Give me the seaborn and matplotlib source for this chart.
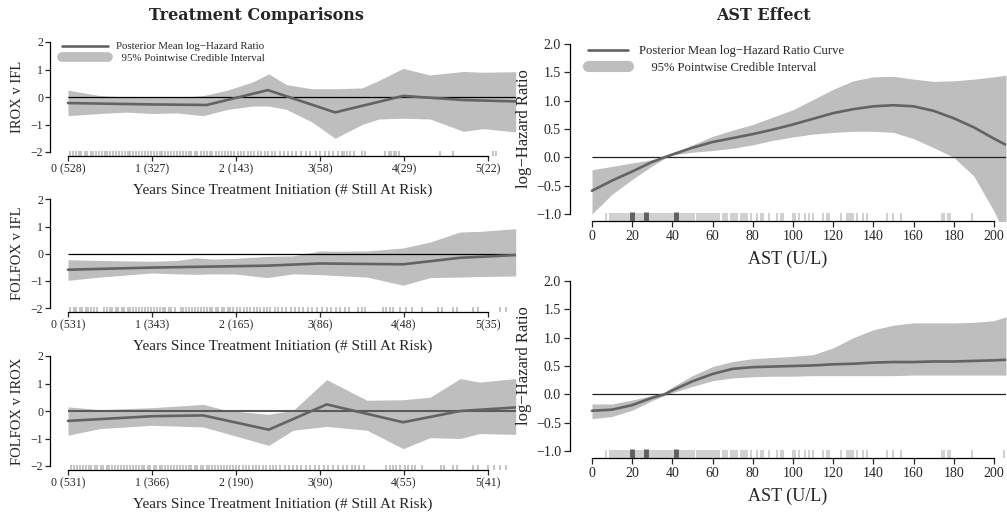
import numpy as np
import pandas as pd
import matplotlib
matplotlib.use("Agg")
import matplotlib.pyplot as plt
import seaborn as sns
from matplotlib.lines import Line2D

# ---------------- data ----------------
# Treatment comparisons (years since treatment initiation)
irox_ifl_mean_x = [0, 1.0, 1.65, 2.38, 3.18, 3.99, 4.71, 5.33]
irox_ifl_mean = [-0.22, -0.27, -0.29, 0.25, -0.56, 0.04, -0.11, -0.16]
irox_ifl_band_x = [0, 0.38, 0.7, 1.0, 1.3, 1.61, 1.9, 2.2, 2.39, 2.6, 2.9, 3.18, 3.5, 3.7, 3.99, 4.31, 4.71, 4.94, 5.33]
irox_ifl_upper = [0.25, 0.05, 0.0, -0.02, -0.02, 0.05, 0.25, 0.55, 0.84, 0.45, 0.3, 0.3, 0.33, 0.6, 1.04, 0.8, 0.93, 0.9, 0.92]
irox_ifl_lower = [-0.68, -0.6, -0.55, -0.6, -0.58, -0.68, -0.45, -0.33, -0.33, -0.45, -0.9, -1.5, -1.0, -0.8, -0.77, -0.8, -1.25, -1.15, -1.27]

folfox_ifl_mean_x = [0, 1.0, 2.37, 3.0, 3.99, 4.67, 5.33]
folfox_ifl_mean = [-0.59, -0.51, -0.44, -0.36, -0.39, -0.15, -0.05]
folfox_ifl_band_x = [0, 0.38, 1.0, 1.29, 1.53, 1.73, 2.0, 2.37, 2.68, 3.0, 3.16, 3.56, 3.99, 4.31, 4.67, 4.9, 5.33]
folfox_ifl_upper = [-0.22, -0.25, -0.28, -0.25, -0.15, -0.2, -0.17, -0.1, -0.08, 0.1, 0.09, 0.1, 0.21, 0.43, 0.8, 0.82, 0.92]
folfox_ifl_lower = [-0.98, -0.86, -0.71, -0.74, -0.76, -0.74, -0.75, -0.88, -0.74, -0.77, -0.8, -0.86, -1.16, -0.88, -0.86, -0.84, -0.82]

folfox_irox_mean_x = [0, 1.0, 1.61, 2.39, 3.08, 3.99, 4.67, 5.33]
folfox_irox_mean = [-0.36, -0.19, -0.16, -0.68, 0.24, -0.41, 0.0, 0.13]
folfox_irox_band_x = [0, 0.38, 1.0, 1.61, 1.89, 2.39, 2.68, 3.08, 3.56, 3.99, 4.31, 4.67, 4.9, 5.33]
folfox_irox_upper = [0.15, 0.05, 0.12, 0.24, 0.02, -0.12, 0.02, 1.14, 0.39, 0.41, 0.5, 1.18, 1.05, 1.18]
folfox_irox_lower = [-0.88, -0.64, -0.52, -0.58, -0.82, -1.25, -0.7, -0.56, -0.7, -1.37, -0.97, -1.0, -0.82, -0.85]

year_ticks = [0, 1, 2, 3, 4, 5]
irox_ifl_ticklabels = ["0 (528)", "1 (327)", "2 (143)", "3(58)", "4(29)", "5(22)"]
folfox_ifl_ticklabels = ["0 (531)", "1 (343)", "2 (165)", "3(86)", "4(48)", "5(35)"]
folfox_irox_ticklabels = ["0 (531)", "1 (366)", "2 (190)", "3(90)", "4(55)", "5(41)"]

irox_ifl_rug = [0.03, 0.06, 0.1, 0.13, 0.16, 0.2, 0.23, 0.27, 0.3, 0.33, 0.37, 0.4, 0.44, 0.47, 0.5,
                0.54, 0.57, 0.61, 0.64, 0.68, 0.71, 0.74, 0.78, 0.81, 0.85, 0.88, 0.92, 0.95, 0.99, 1.02,
                1.06, 1.09, 1.12, 1.16, 1.19, 1.23, 1.26, 1.3, 1.33, 1.37, 1.4, 1.44, 1.47, 1.51, 1.54,
                1.58, 1.62, 1.65, 1.69, 1.72, 1.76, 1.8, 1.83, 1.87, 1.91, 1.94, 1.98, 2.02, 2.06, 2.1,
                2.14, 2.18, 2.22, 2.26, 2.3, 2.34, 2.38, 2.43, 2.47, 2.52, 2.57, 2.62, 2.67, 2.72, 2.77,
                2.83, 2.88, 2.95, 3.0, 3.06, 3.11, 3.16, 3.22, 3.26, 3.29, 3.32, 3.36, 3.4, 3.5, 3.54,
                3.77, 3.82, 3.85, 3.88, 3.91, 3.94, 4.43, 4.58, 5.06, 5.1]
folfox_ifl_rug = [0.03, 0.07, 0.1, 0.14, 0.17, 0.21, 0.24, 0.28, 0.31, 0.35, 0.43, 0.46, 0.5, 0.53,
                  0.57, 0.6, 0.64, 0.67, 0.71, 0.74, 0.78, 0.81, 0.85, 0.88, 0.92, 0.95, 0.99, 1.02,
                  1.06, 1.09, 1.13, 1.16, 1.2, 1.23, 1.27, 1.34, 1.37, 1.41, 1.44, 1.48, 1.51, 1.55,
                  1.58, 1.62, 1.65, 1.69, 1.72, 1.76, 1.79, 1.83, 1.86, 1.9, 1.93, 1.97, 2.01, 2.05,
                  2.09, 2.13, 2.17, 2.21, 2.25, 2.29, 2.33, 2.37, 2.41, 2.46, 2.5, 2.55, 2.6, 2.65,
                  2.7, 2.75, 2.8, 2.86, 2.91, 2.97, 3.02, 3.08, 3.13, 3.19, 3.24, 3.3, 3.35, 3.45,
                  3.5, 3.54, 3.75, 3.79, 3.83, 3.87, 3.95, 4.03, 4.09, 4.21, 4.41, 4.45, 4.58, 4.63,
                  4.82, 4.88, 5.14, 5.22]
folfox_irox_rug = [0.04, 0.07, 0.11, 0.14, 0.18, 0.21, 0.25, 0.28, 0.32, 0.35, 0.39, 0.42, 0.46, 0.49,
                   0.53, 0.56, 0.6, 0.63, 0.67, 0.7, 0.74, 0.77, 0.81, 0.84, 0.88, 0.91, 0.95, 0.98,
                   1.02, 1.05, 1.09, 1.12, 1.16, 1.19, 1.23, 1.26, 1.3, 1.33, 1.37, 1.4, 1.44, 1.47,
                   1.51, 1.54, 1.58, 1.61, 1.65, 1.68, 1.72, 1.75, 1.79, 1.82, 1.86, 1.89, 1.93, 1.96,
                   2.0, 2.04, 2.08, 2.12, 2.16, 2.2, 2.24, 2.28, 2.32, 2.36, 2.4, 2.44, 2.48, 2.53,
                   2.58, 2.63, 2.68, 2.73, 2.78, 2.83, 2.88, 2.94, 2.99, 3.05, 3.1, 3.16, 3.21, 3.27,
                   3.32, 3.38, 3.42, 3.47, 3.52, 3.79, 3.83, 3.87, 3.91, 3.95, 4.01, 4.05, 4.09, 4.13,
                   4.21, 4.44, 4.48, 4.58, 4.63, 4.82, 4.88, 5.0, 5.07, 5.14, 5.22]

# AST effect (U/L)
ast_x = [0, 10, 20, 30, 36, 40, 50, 60, 70, 80, 90, 100, 110, 120, 130, 140, 150, 160, 170, 180, 190, 200, 206]
ast1_mean = [-0.59, -0.41, -0.25, -0.08, 0.0, 0.05, 0.17, 0.27, 0.34, 0.41, 0.49, 0.58, 0.68, 0.78, 0.85,
             0.9, 0.92, 0.9, 0.82, 0.69, 0.53, 0.33, 0.22]
ast1_upper = [-0.22, -0.16, -0.1, -0.04, 0.0, 0.06, 0.22, 0.37, 0.48, 0.58, 0.71, 0.84, 1.02, 1.2, 1.35,
              1.42, 1.43, 1.38, 1.34, 1.35, 1.38, 1.42, 1.45]
ast1_lower = [-1.0, -0.65, -0.39, -0.15, -0.02, 0.04, 0.09, 0.12, 0.16, 0.22, 0.3, 0.36, 0.41, 0.44, 0.46,
              0.46, 0.44, 0.33, 0.17, 0.0, -0.33, -0.95, -1.4]
ast2_mean = [-0.29, -0.27, -0.19, -0.06, 0.0, 0.07, 0.23, 0.36, 0.45, 0.48, 0.49, 0.5, 0.51, 0.53, 0.54,
             0.56, 0.57, 0.57, 0.58, 0.58, 0.59, 0.6, 0.61]
ast2_upper = [-0.17, -0.17, -0.1, -0.02, 0.03, 0.13, 0.33, 0.49, 0.58, 0.63, 0.65, 0.67, 0.7, 0.82, 1.0,
              1.14, 1.22, 1.26, 1.26, 1.26, 1.27, 1.3, 1.37]
ast2_lower = [-0.43, -0.39, -0.28, -0.11, -0.02, 0.03, 0.14, 0.24, 0.29, 0.31, 0.32, 0.32, 0.33, 0.33, 0.33,
              0.33, 0.33, 0.34, 0.34, 0.34, 0.34, 0.34, 0.34]
ast_rug = [7, 9, 10, 11, 12, 13, 14, 15, 16, 17, 18, 19, 21, 22, 23, 24, 25, 26, 28, 29, 30, 31, 32, 33,
           34, 35, 36, 37, 38, 39, 40, 41, 43, 44, 45, 46, 47, 48, 49, 50, 51, 52, 53, 54, 55, 56, 57,
           58, 59, 60, 61, 62, 63, 65, 66, 67, 69, 70, 71, 72, 74, 75, 76, 77, 79, 82, 84, 85, 88, 92,
           94, 95, 100, 101, 103, 106, 108, 110, 115, 117, 118, 124, 127, 128, 129, 130, 132, 135, 137,
           147, 150, 154, 174, 175, 177, 178, 189, 205]
ast_quartiles = [20, 27, 42]
ast_ticks = [0, 20, 40, 60, 80, 100, 120, 140, 160, 180, 200]

# ---------------- style ----------------
sns.set_style("ticks")
plt.rcParams['font.family'] = ['Liberation Serif', 'DejaVu Serif']
plt.rcParams['axes.unicode_minus'] = True

MEAN_C = '#636363'
BAND_C = '#BEBEBE'
RUG_C = '#C4C4C4'

W, H = 1007, 512
fig = plt.figure(figsize=(W / 100, H / 100), dpi=100)


def add_axes(l, r, t, b):
    ax = fig.add_axes([l / W, 1 - b / H, (r - l) / W, (b - t) / H])
    ax.patch.set_visible(False)
    return ax


def style_axes(ax, xb, yb):
    for s in ['top', 'right']:
        ax.spines[s].set_visible(False)
    ax.spines['left'].set_bounds(*yb)
    ax.spines['bottom'].set_bounds(*xb)
    for s in ['left', 'bottom']:
        ax.spines[s].set_linewidth(0.9)
        ax.spines[s].set_color('black')


left_boxes = [(37.6, 156.4), (195.0, 312.4), (351.6, 470.4)]
left_panels = [
    ("IROX v IFL", irox_ifl_mean_x, irox_ifl_mean, irox_ifl_band_x, irox_ifl_upper, irox_ifl_lower,
     irox_ifl_ticklabels, irox_ifl_rug),
    ("FOLFOX v IFL", folfox_ifl_mean_x, folfox_ifl_mean, folfox_ifl_band_x, folfox_ifl_upper, folfox_ifl_lower,
     folfox_ifl_ticklabels, folfox_ifl_rug),
    ("FOLFOX v IROX", folfox_irox_mean_x, folfox_irox_mean, folfox_irox_band_x, folfox_irox_upper,
     folfox_irox_lower, folfox_irox_ticklabels, folfox_irox_rug),
]

for i, ((t, b), (name, mx, my, bx, up, lo, tl, rug)) in enumerate(zip(left_boxes, left_panels)):
    ax = add_axes(50, 515.7, t, b)
    ax.fill_between(bx, lo, up, color=BAND_C, lw=0, zorder=1)
    if i == 2:
        ax.hlines(0, 0, 5.33, color='#5a5a5a', lw=1.5, zorder=2)
    else:
        ax.hlines(0, 0, 5.33, color='black', lw=0.9, zorder=2)
    sns.lineplot(x=mx, y=my, ax=ax, color=MEAN_C, linewidth=1.9, zorder=3)
    sns.rugplot(x=rug, ax=ax, height=0.042, color=RUG_C, linewidth=1.4, zorder=2)
    ax.set_xlim(-0.214, 5.33)
    ax.set_ylim(-2.16, 2.16)
    ax.set_yticks([-2, -1, 0, 1, 2])
    ax.set_xticks(year_ticks)
    ax.set_xticklabels(tl)
    style_axes(ax, (0, 5), (-2, 2))
    ax.tick_params(direction='out', length=3.5, width=0.9, pad=1.5, labelsize=8.5)
    ax.set_ylabel(name, fontsize=10.5, labelpad=5)
    ax.set_xlabel("Years Since Treatment Initiation (# Still At Risk)", fontsize=11, labelpad=6)
    if i == 0:
        handles = [Line2D([], [], color=MEAN_C, lw=1.9),
                   Line2D([], [], color=BAND_C, lw=7, solid_capstyle='round')]
        ax.legend(handles, ["Posterior Mean log\u2212Hazard Ratio", "  95% Pointwise Credible Interval"],
                  loc='upper left', bbox_to_anchor=(0.026, 0.965), frameon=False, fontsize=7.8,
                  handlelength=4.2, handletextpad=0.8, labelspacing=0.2, borderpad=0, borderaxespad=0)

right_boxes = [(37.2, 220.8), (274.2, 457.8)]
right_panels = [(ast1_mean, ast1_upper, ast1_lower), (ast2_mean, ast2_upper, ast2_lower)]
for i, ((t, b), (m, up, lo)) in enumerate(zip(right_boxes, right_panels)):
    ax = add_axes(570, 1006, t, b)
    ax.fill_between(ast_x, lo, up, color=BAND_C, lw=0, zorder=1)
    ax.hlines(0, 0, 206, color='#222222', lw=0.9, zorder=2)
    sns.lineplot(x=ast_x, y=m, ax=ax, color=MEAN_C, linewidth=1.9, zorder=3)
    sns.rugplot(x=ast_rug, ax=ax, height=0.04, color=RUG_C, linewidth=1.1, zorder=2)
    sns.rugplot(x=ast_quartiles, ax=ax, height=0.05, color='#606060', linewidth=3.5, zorder=3)
    ax.set_xlim(-10.95, 206)
    ax.set_ylim(-1.12, 2.12)
    ax.set_yticks([-1.0, -0.5, 0.0, 0.5, 1.0, 1.5, 2.0])
    ax.set_yticklabels([f"{v:.1f}".replace('-', '\u2212') for v in [-1.0, -0.5, 0.0, 0.5, 1.0, 1.5, 2.0]])
    ax.set_xticks(ast_ticks)
    style_axes(ax, (0, 200), (-1, 2))
    ax.tick_params(direction='out', length=4, width=0.9, pad=2.5, labelsize=10)
    ax.set_ylabel("log\u2212Hazard Ratio", fontsize=12, labelpad=3)
    ax.set_xlabel("AST (U/L)", fontsize=13, labelpad=6)
    if i == 0:
        handles = [Line2D([], [], color=MEAN_C, lw=1.9),
                   Line2D([], [], color=BAND_C, lw=8, solid_capstyle='round')]
        ax.legend(handles, ["Posterior Mean log\u2212Hazard Ratio Curve", "    95% Pointwise Credible Interval"],
                  loc='upper left', bbox_to_anchor=(0.041, 0.955), frameon=False, fontsize=9.1,
                  handlelength=3.2, handletextpad=0.85, labelspacing=0.35, borderpad=0, borderaxespad=0)

fig.text(0.255, 1 - 15 / H, "Treatment Comparisons", ha='center', va='center',
         family='DejaVu Serif', fontweight='bold', fontsize=11.5)
fig.text(0.758, 1 - 15 / H, "AST Effect", ha='center', va='center',
         family='DejaVu Serif', fontweight='bold', fontsize=11.5)

fig.savefig("out.png", dpi=100)
